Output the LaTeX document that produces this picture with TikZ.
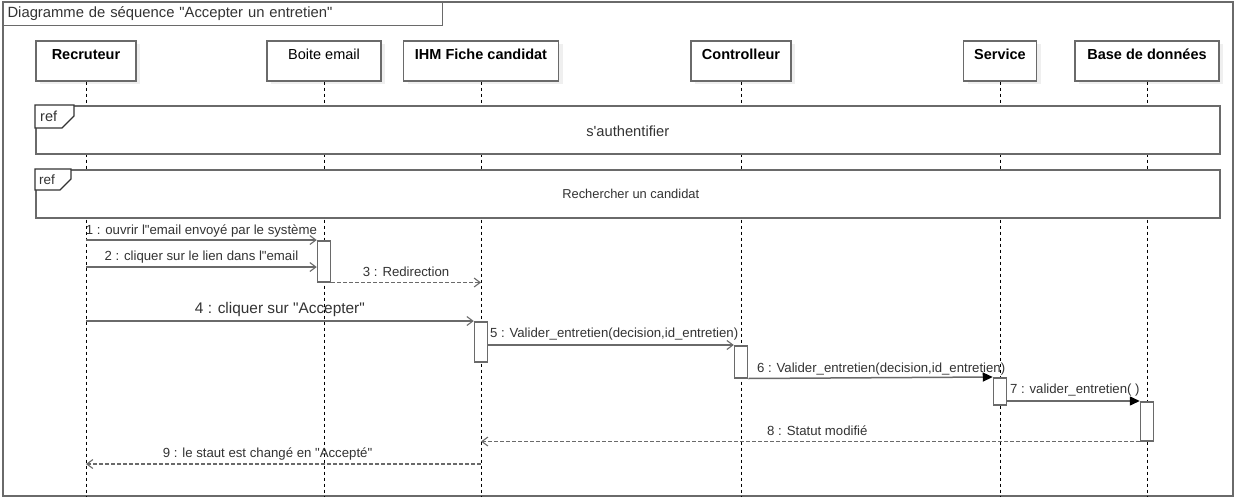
\documentclass[tikz,border=0pt]{standalone}
\usepackage{fontspec}
\setmainfont{Liberation Sans}
\usetikzlibrary{positioning,arrows.meta,calc}

\definecolor{linegray}{HTML}{6A6A6A}
\definecolor{txtgray}{HTML}{333333}
\definecolor{shadowgray}{HTML}{EFEFEF}

\tikzset{
  head/.style={rectangle,draw=linegray,line width=1.5pt,fill=white,minimum height=40pt,anchor=north,inner sep=0pt},
  headtxt/.style={anchor=base,font=\fontsize{14.5}{16}\selectfont,text=black,inner sep=0pt},
  life/.style={black,line width=0.9pt,dash pattern=on 3pt off 3pt},
  actbar/.style={rectangle,draw=linegray,line width=1.5pt,fill=white,minimum width=13pt,anchor=north,inner sep=0pt},
  msg/.style={draw=linegray,line width=1.5pt,-{Straight Barb[length=6pt,width=9pt,line width=1.1pt]}},
  sync/.style={draw=linegray,line width=1.5pt,-{Triangle[length=10pt,width=9pt,color=black]}},
  reply/.style={draw=linegray,line width=1.2pt,dash pattern=on 4pt off 2pt,-{Straight Barb[length=6pt,width=9pt,line width=1.1pt]}},
  msglbl/.style={font=\fontsize{13.2}{15}\selectfont,text=txtgray,inner sep=0pt,anchor=base},
  reffrm/.style={draw=linegray,line width=1.5pt,fill=white},
  reftab/.style={draw=black!80,line width=1.1pt,fill=white}
}

\begin{document}
\begin{tikzpicture}[x=1pt,y=-1pt]
  \useasboundingbox (0,0) rectangle (1235,498);

  % outer frame and title
  \draw[linegray,line width=1.1pt,fill=white] (3,2) rectangle (1233,496);
  \node (title) [draw=linegray,line width=1.1pt,fill=white,anchor=north west,minimum height=23pt,text width=431pt,inner xsep=4pt,align=left,
                 font=\fontsize{14.8}{17}\selectfont,text=txtgray] at (3,2) {Diagramme de séquence \textquotedbl Accepter un entretien\textquotedbl};

  % lifelines
  \foreach \n/\x/\w/\t in {rec/86/100/\textbf{Recruteur},
                           mail/324/114/Boite email,
                           ihm/481/155/\textbf{IHM Fiche candidat},
                           ctrl/741/100/\textbf{Controlleur},
                           serv/1000/73/\textbf{Service},
                           bdd/1147/144/\textbf{Base de données}}
           {
             \fill[shadowgray] ({\x-\w/2+4},44) rectangle ({\x+\w/2+4},84);
             \node (\n) [head,minimum width=\w] at (\x,40) {};
             \node (\n_t) [headtxt] at ($(\n.north)+(0,19.5)$) {\t};
             \draw[life] (\n.south) -- (\n.south |- 0,496);
           }

  % ref frames
  \node (ref_auth) [reffrm,minimum width=1184pt,minimum height=48pt,anchor=north west,inner sep=0pt] at (35,105) {};
  \draw[reftab] (35,105) -- (74,105) -- (74,116) -- (62,128) -- (35,128) -- cycle;
  \node (ref_auth_l) [anchor=base west,font=\fontsize{14.5}{16}\selectfont,text=txtgray,inner sep=0pt] at (40,121) {ref};
  \node (ref_auth_t) [font=\fontsize{14.7}{16}\selectfont,text=txtgray] at ($(ref_auth.center)+(0,1)$) {s\textquotesingle authentifier};

  \node (ref_cand) [reffrm,minimum width=1184pt,minimum height=48pt,anchor=north west,inner sep=0pt] at (35,169) {};
  \draw[reftab] (35,169) -- (71,169) -- (71,179) -- (60,190) -- (35,190) -- cycle;
  \node (ref_cand_l) [anchor=base west,font=\fontsize{13.5}{15}\selectfont,text=txtgray,inner sep=0pt] at (39,184) {ref};
  \node (ref_cand_t) [font=\fontsize{12.9}{15}\selectfont,text=txtgray] at ($(ref_cand.center)+(3,0)$) {Rechercher un candidat};

  % activations
  \node (act_mail) [actbar,minimum height=41pt] at (mail |- 0,240) {};
  \node (act_ihm) [actbar,minimum height=40pt] at (ihm |- 0,321) {};
  \node (act_ctrl) [actbar,minimum height=32pt] at (ctrl |- 0,345) {};
  \node (act_serv) [actbar,minimum height=27pt] at (serv |- 0,377) {};
  \node (act_bdd) [actbar,minimum height=39pt] at (bdd |- 0,401) {};

  % messages
  \draw[msg] (rec |- act_mail.north) -- (act_mail.north west)
        node[msglbl,midway,yshift=6pt] {1 : ouvrir l\textquotedbl email envoyé par le système};
  \coordinate (m2) at ($(act_mail.north west)+(0,27)$);
  \draw[msg] (rec |- m2) -- (m2)
        node[msglbl,midway,yshift=7pt] {2 : cliquer sur le lien dans l\textquotedbl email};
  \draw[reply] (act_mail.south east) -- (ihm |- act_mail.south)
        node[msglbl,midway,yshift=6pt] {3 : Redirection};
  \draw[msg] (rec |- act_ihm.north) -- (act_ihm.north west)
        node[msglbl,midway,yshift=8pt,font=\fontsize{15.4}{17}\selectfont] {4 : cliquer sur \textquotedbl Accepter\textquotedbl};
  \draw[msg] (act_ihm.east |- act_ctrl.north) -- (act_ctrl.north west)
        node[msglbl,pos=0,anchor=base west,xshift=1pt,yshift=8pt] {5 : Valider\_entretien(decision,id\_entretien)};
  \draw[sync] (act_ctrl.south east) -- (act_serv.north west)
        node[msglbl,pos=0,anchor=base west,xshift=8pt,yshift=6pt] {6 : Valider\_entretien(decision,id\_entretien)};
  \draw[sync] (act_serv.east |- act_bdd.north) -- (act_bdd.north west)
        node[msglbl,pos=0,anchor=base west,xshift=2pt,yshift=8pt] {7 : valider\_entretien( )};
  \draw[reply] (act_bdd.south west) -- (ihm |- act_bdd.south)
        node[msglbl,midway,xshift=7pt,yshift=6pt] {8 : Statut modifié};
  \coordinate (m9) at (ihm |- 0,464);
  \draw[reply] (m9) -- (rec |- m9)
        node[msglbl,midway,xshift=-16pt,yshift=7pt] {9 : le staut est changé en \textquotedbl Accepté\textquotedbl};

\end{tikzpicture}
\end{document}
